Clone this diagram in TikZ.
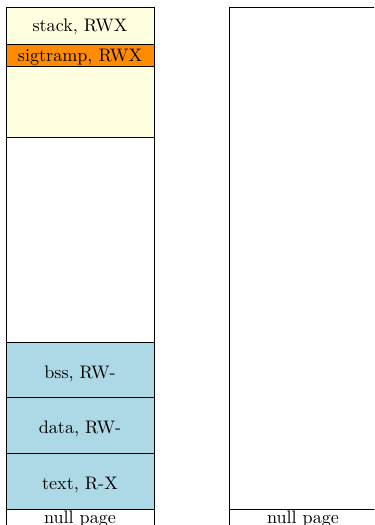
\documentclass[tikz,border=0pt]{standalone}
\definecolor{stackbg}{RGB}{255,255,224}
\definecolor{trampbg}{RGB}{255,140,0}
\definecolor{imagebg}{RGB}{173,216,230}
\begin{document}
\begin{tikzpicture}[x=0.552pt,y=-0.552pt,
  region/.style={draw=black, line width=0.5pt},
  lbl/.style={inner sep=0pt, anchor=base}]
\useasboundingbox (0,0) rectangle (374,525);
\clip (0,0) rectangle (374,525);

% address space of a process (left)
\filldraw[region, fill=stackbg] (6,7) rectangle (154,137);
\filldraw[region, fill=stackbg] (6,7) rectangle (154,44);
\filldraw[region, fill=trampbg] (6,44) rectangle (154,66);
\draw[region] (6,137) rectangle (154,342);
\filldraw[region, fill=imagebg] (6,342) rectangle (154,397);
\filldraw[region, fill=imagebg] (6,397) rectangle (154,453);
\filldraw[region, fill=imagebg] (6,453) rectangle (154,509);
\draw[region] (6,509) rectangle (154,545);

\node[lbl] (stack) at (80,31.7) {stack, RWX};
\node[lbl] (tramp) at (80,61.7) {sigtramp, RWX};
\node[lbl] (bss)   at (80,378.5) {bss, RW-};
\node[lbl] (data)  at (80,433) {data, RW-};
\node[lbl] (text)  at (80,489) {text, R-X};
\node[lbl] (nullL) at (80,523) {null page};

% empty address space (right)
\draw[region] (229,7) rectangle (377,509);
\draw[region] (229,509) rectangle (377,545);
\node[lbl] (nullR) at (303,523) {null page};
\end{tikzpicture}
\end{document}
